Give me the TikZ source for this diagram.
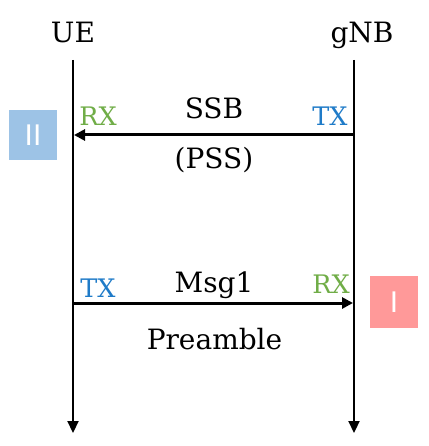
\documentclass[tikz,border=0pt]{standalone}
\usepackage{fontspec}
\setmainfont{DejaVu Serif}
\newfontfamily\boxfont{Liberation Sans}
\usetikzlibrary{arrows.meta}
\definecolor{rxgreen}{HTML}{70AD47}
\definecolor{txblue}{HTML}{1F7BC8}
\definecolor{boxblue}{HTML}{9DC3E6}
\definecolor{boxpink}{HTML}{FF9999}
\begin{document}
\begin{tikzpicture}[x=1pt,y=-1pt,
  lifeline/.style={line width=2.2pt,-{Triangle[length=12pt,width=11pt]}},
  msg/.style={line width=3pt,-{Triangle[length=11pt,width=11pt]}},
  title/.style={font=\fontsize{28}{30}\selectfont,anchor=base,inner sep=0pt},
  rx/.style={font=\fontsize{25.5}{26}\selectfont,text=rxgreen,anchor=base,inner sep=0pt},
  tx/.style={font=\fontsize{25.5}{26}\selectfont,text=txblue,anchor=base,inner sep=0pt},
  tagbox/.style={minimum width=48pt,inner sep=0pt,text=white,font=\boxfont\fontsize{30}{30}\selectfont}
]
\useasboundingbox[fill=white] (0,0) rectangle (428,446);
% lifelines
\node[title] (ue) at (73,43) {UE};
\node[title] (gnb) at (362,43) {gNB};
\coordinate (ueTop) at (73,60);
\coordinate (ueBot) at (73,433);
\coordinate (gnbTop) at (354,60);
\coordinate (gnbBot) at (354,433);
\draw[lifeline] (ueTop) -- (ueBot);
\draw[lifeline] (gnbTop) -- (gnbBot);
% SSB
\coordinate (ssbS) at (354,135);
\coordinate (ssbE) at (74,135);
\draw[msg] (ssbS) -- (ssbE);
\node[title] (ssb) at (214,119) {SSB};
\node[title] (pss) at (214,168) {(PSS)};
\node[rx] (rx1) at (98,126) {RX};
\node[tx] (tx1) at (330,126) {TX};
% Msg1
\coordinate (m1S) at (73,303);
\coordinate (m1E) at (353,303);
\draw[msg] (m1S) -- (m1E);
\node[title] (msg1) at (214,292) {Msg1};
\node[title] (pre) at (214.5,349) {Preamble};
\node[tx] (tx2) at (98,297) {TX};
\node[rx] (rx2) at (331,293) {RX};
% tag boxes
\node[tagbox,fill=boxblue,minimum height=50pt] (b2) at (33,135) {II};
\node[tagbox,fill=boxpink,minimum height=52pt] (b1) at (394,302) {I};
\end{tikzpicture}
\end{document}
